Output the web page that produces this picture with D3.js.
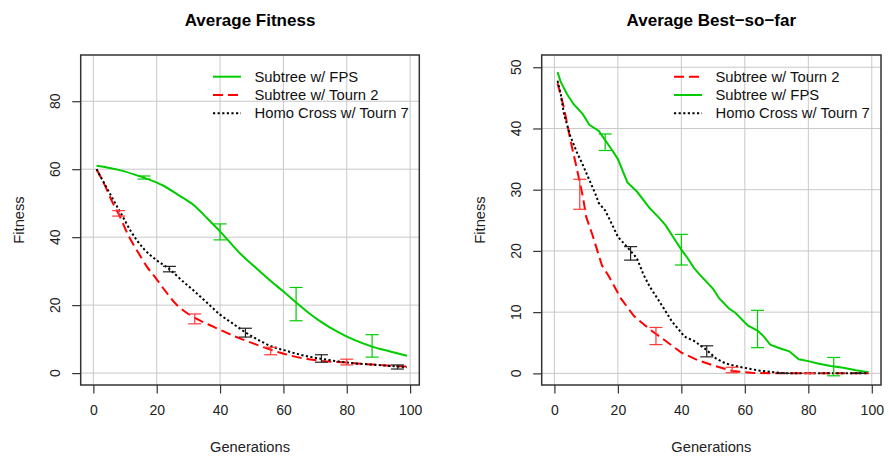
<!DOCTYPE html>
<html>
<head>
<meta charset="utf-8">
<script src="https://cdn.jsdelivr.net/npm/d3@7"></script>
<style>
body { margin:0; background:#fff; }
svg { font-family: "Liberation Sans", Arial, sans-serif; }
</style>
</head>
<body>
<div id="visOut"></div>
<script>

// ---- data ----
var xTicks = [0, 20, 40, 60, 80, 100];
var yTicksFit = [0, 20, 40, 60, 80];
var yTicksBsf = [0, 10, 20, 30, 40, 50];

// Average Fitness: [generation, fitness]
var avgFps = [[1,61.0],[8,59.8],[15,57.8],[22,55.2],[27,52.3],[32,49.2],[36,45.5],[40,41.7],[46,35.5],[52,30.4],[56,27.1],[60,24.0],[64,20.8],[68,17.7],[72,15.0],[77,12.2],[82,9.9],[88,7.8],[94,6.3],[99,5.1]];
var avgT2 = [[1,60],[4,54.5],[6,50.3],[8,46.8],[11,40.6],[14,35.7],[17,31.2],[20,27.6],[23,23.8],[26,20.4],[30,17.4],[34,15.3],[38,13.6],[42,11.9],[46,10.3],[50,8.9],[55,7.2],[59,6.0],[63,5.0],[68,4.1],[72,3.6],[80,3.1],[88,2.5],[94,2.2],[99,1.9]];
var avgHomo = [[1,60],[6,51.5],[9,46.5],[12,41.5],[16,36.5],[20,33.2],[24,30.6],[28,27.2],[32,24.0],[36,20.6],[40,17.2],[44,14.6],[48,12.0],[53,9.3],[57,7.6],[60,6.8],[65,5.5],[70,4.5],[74,3.9],[81,3.0],[88,2.5],[94,2.1],[99,1.7]];

// error bars: [generation, low, high]
var avgFpsErr = [[16,57.1,58.0],[40,39.2,43.9],[64,15.4,25.2],[88,4.7,11.3]];
var avgT2Err = [[8,46.2,47.8],[32,14.5,17.4],[56,5.4,7.6],[80,2.4,4.1]];
var avgHomoErr = [[24,29.8,31.4],[48,10.6,13.2],[72,3.2,5.4],[96,1.2,2.4]];

// Average Best-so-far
var bsfFps = [[1,49.2],[2,47.6],[4,45.6],[6,44.0],[9,42.3],[11,40.6],[14,39.6],[16,38.1],[18,36.6],[20,35.0],[23,31.2],[26,29.7],[30,27.0],[33,25.4],[35,24.2],[40,20.2],[42,18.8],[44,17.2],[46,16.0],[50,13.8],[52,12.2],[55,10.6],[57,9.9],[61,7.8],[64,7.0],[66,6.0],[68,4.7],[71,4.1],[74,3.6],[77,2.3],[80,2.0],[83,1.6],[87,1.2],[91,0.9],[95,0.5],[99,0.2]];
var bsfT2 = [[1,47.4],[3,43.4],[5,38.2],[7,33.6],[9,28.8],[10,25.6],[12,22.6],[15,17.6],[17,16.0],[21,12.2],[25,9.4],[30,7.2],[34,5.7],[40,3.4],[45,2.2],[50,1.3],[56,0.4],[62,0.1],[68,0],[80,0],[90,0],[99,0]];
var bsfHomo = [[1,47.8],[2,45.6],[3,42.4],[5,38.8],[7,36.2],[9,34.0],[11,31.6],[13,29.2],[14,27.8],[16,26.6],[18,24.5],[20,22.3],[23,20.6],[26,18.8],[28,16.2],[30,14.2],[34,11.0],[37,8.5],[41,6.0],[44,5.3],[48,3.8],[51,2.4],[54,1.6],[58,1.1],[64,0.5],[69,0.2],[73,0],[85,0],[99,0]];

var bsfFpsErr = [[16,36.4,39.1],[40,17.7,22.7],[64,4.2,10.3],[88,-0.4,2.6]];
var bsfT2Err = [[8,26.8,31.7],[32,4.7,7.5],[56,0.1,1.0],[80,0,0]];
var bsfHomoErr = [[24,18.5,20.7],[48,2.7,4.5],[72,0,0],[96,0,0]];

var names = {fps: "Subtree w/ FPS", t2: "Subtree w/ Tourn 2", homo: "Homo Cross w/ Tourn 7"};
var styles = {
    fps:  {color: "#00cc00", dash: null, errColor: "#00cc00"},
    t2:   {color: "#ff0000", dash: "10,5", errColor: "#ff3838"},
    homo: {color: "#000000", dash: "2.2,2.4", errColor: "#222222"}
};

var width = 889, height = 460;

var svg = d3.select("#visOut") //add svg element
    .append("svg")
    .attr("width", width)
    .attr("height", height);

function drawPanel(p){ //one plot panel

    var x = d3.scaleLinear().domain([-4, 102.9]).range([p.left, p.right]);
    var y = d3.scaleLinear().domain(p.yDomain).range([385, 55]);
    var g = svg.append("g");

    //grid
    g.selectAll("line.vgrid")
        .data(xTicks)
        .enter()
        .append("line")
        .attr("x1", function(d){ return x(d); })
        .attr("x2", function(d){ return x(d); })
        .attr("y1", 55)
        .attr("y2", 385)
        .attr("stroke", "#c8c8c8")
        .attr("stroke-width", 1);
    g.selectAll("line.hgrid")
        .data(p.yTicks)
        .enter()
        .append("line")
        .attr("x1", p.left)
        .attr("x2", p.right)
        .attr("y1", function(d){ return y(d); })
        .attr("y2", function(d){ return y(d); })
        .attr("stroke", "#c8c8c8")
        .attr("stroke-width", 1);

    //axes
    var xAxis = g.append("g")
        .attr("transform", "translate(0,385)")
        .call(d3.axisBottom(x).tickValues(xTicks).tickSize(8.5).tickPadding(12));
    var yAxis = g.append("g")
        .attr("transform", "translate(" + p.left + ",0)")
        .call(d3.axisLeft(y).tickValues(p.yTicks).tickSize(8.5));
    [xAxis, yAxis].forEach(function(a){
        a.select(".domain").remove();
        a.selectAll("line").attr("stroke", "#333").attr("stroke-width", 1.2);
    });
    xAxis.selectAll("text")
        .attr("font-size", "14px")
        .attr("fill", "#222")
        .attr("font-family", "Liberation Sans, Arial, sans-serif");
    yAxis.selectAll("text").remove();
    g.selectAll("text.ylab")
        .data(p.yTicks)
        .enter()
        .append("text")
        .attr("transform", function(d){ return "translate(" + (p.left - 26) + "," + y(d) + ") rotate(-90)"; })
        .attr("text-anchor", "middle")
        .attr("dy", "0.35em")
        .attr("font-size", "14px")
        .attr("fill", "#222")
        .text(function(d){ return d; });

    //lines
    var line = d3.line()
        .curve(p.smooth ? d3.curveMonotoneX : d3.curveLinear)
        .x(function(d){ return x(d[0]); })
        .y(function(d){ return y(d[1]); });

    p.series.forEach(function(s){
        var st = styles[s.key];
        g.append("path")
            .datum(s.values)
            .attr("d", line)
            .attr("fill", "none")
            .attr("stroke", st.color)
            .attr("stroke-width", 2)
            .attr("stroke-dasharray", st.dash);
    });

    //error bars
    p.series.forEach(function(s){
        var st = styles[s.key];
        var eb = g.selectAll(null)
            .data(s.err)
            .enter()
            .append("g")
            .attr("stroke", st.errColor)
            .attr("stroke-width", 1.2);
        eb.append("line")
            .attr("x1", function(d){ return x(d[0]); })
            .attr("x2", function(d){ return x(d[0]); })
            .attr("y1", function(d){ return y(d[1]); })
            .attr("y2", function(d){ return y(d[2]); });
        eb.append("line")
            .attr("x1", function(d){ return x(d[0]) - 6.5; })
            .attr("x2", function(d){ return x(d[0]) + 6.5; })
            .attr("y1", function(d){ return y(d[1]); })
            .attr("y2", function(d){ return y(d[1]); });
        eb.append("line")
            .attr("x1", function(d){ return x(d[0]) - 6.5; })
            .attr("x2", function(d){ return x(d[0]) + 6.5; })
            .attr("y1", function(d){ return y(d[2]); })
            .attr("y2", function(d){ return y(d[2]); });
    });

    //box
    g.append("rect")
        .attr("x", p.left)
        .attr("y", 55)
        .attr("width", p.right - p.left)
        .attr("height", 330)
        .attr("fill", "none")
        .attr("stroke", "#333")
        .attr("stroke-width", 1.5);

    //legend
    var rowY = [76.7, 95, 113.3];
    p.legend.forEach(function(k, i){
        var st = styles[k];
        g.append("line")
            .attr("x1", p.legX)
            .attr("x2", p.legX + 28)
            .attr("y1", rowY[i])
            .attr("y2", rowY[i])
            .attr("stroke", st.color)
            .attr("stroke-width", 2)
            .attr("stroke-dasharray", st.dash);
        g.append("text")
            .attr("x", p.legX + 41.5)
            .attr("y", rowY[i])
            .attr("dy", "0.35em")
            .attr("font-size", "14.8px")
            .attr("fill", "#111")
            .text(names[k]);
    });

    //titles
    var cx = (p.left + p.right) / 2;
    g.append("text")
        .attr("x", cx)
        .attr("y", 20)
        .attr("dy", "0.35em")
        .attr("text-anchor", "middle")
        .attr("font-size", "17px")
        .attr("font-weight", "bold")
        .text(p.title);
    g.append("text")
        .attr("x", cx)
        .attr("y", 447)
        .attr("dy", "0.35em")
        .attr("text-anchor", "middle")
        .attr("font-size", "14.7px")
        .attr("fill", "#222")
        .text("Generations");
    g.append("text")
        .attr("transform", "translate(" + (p.left - 62) + ",220) rotate(-90)")
        .attr("dy", "0.35em")
        .attr("text-anchor", "middle")
        .attr("font-size", "14.7px")
        .attr("fill", "#222")
        .text("Fitness");
}

drawPanel({
    left: 80.7, right: 419.3, yDomain: [-3.5, 93.6], yTicks: yTicksFit, smooth: true,
    title: "Average Fitness", legX: 213, legend: ["fps", "t2", "homo"],
    series: [
        {key: "fps", values: avgFps, err: avgFpsErr},
        {key: "t2", values: avgT2, err: avgT2Err},
        {key: "homo", values: avgHomo, err: avgHomoErr}
    ]
});

drawPanel({
    left: 541.7, right: 881, yDomain: [-1.9, 52.0], yTicks: yTicksBsf, smooth: false,
    title: "Average Best\u2212so\u2212far", legX: 674, legend: ["t2", "fps", "homo"],
    series: [
        {key: "fps", values: bsfFps, err: bsfFpsErr},
        {key: "t2", values: bsfT2, err: bsfT2Err},
        {key: "homo", values: bsfHomo, err: bsfHomoErr}
    ]
});

</script>
</body>
</html>
